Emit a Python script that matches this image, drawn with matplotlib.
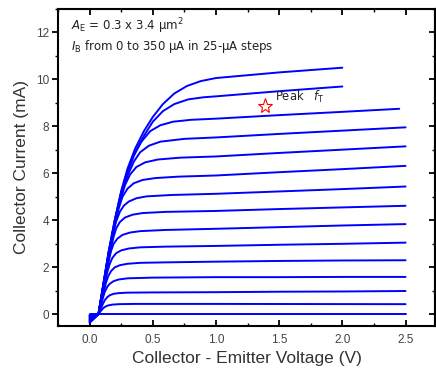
import matplotlib
matplotlib.use("Agg")
import matplotlib.pyplot as plt
from matplotlib.ticker import MultipleLocator

plt.rcParams['font.family'] = ['Liberation Sans', 'DejaVu Sans']
plt.rcParams['mathtext.fontset'] = 'custom'
plt.rcParams['mathtext.rm'] = 'DejaVu Sans'
plt.rcParams['mathtext.it'] = 'DejaVu Sans:italic'

# Collector-emitter voltage (V) and collector current (mA) for each base-current step
# (IB = 0, 25, 50, ... 350 uA)
vce_0 = [0.0, 0.07, 1.0, 2.5]
ic_0 = [0.0, 0.0, 0.0, 0.0]
vce_25 = [0.0, 0.07, 0.09, 0.11, 0.13, 0.15, 0.18, 0.23, 0.35, 1.0, 2.5]
ic_25 = [-0.03, 0.0, 0.15, 0.27, 0.34, 0.38, 0.41, 0.43, 0.44, 0.44, 0.43]
vce_50 = [0.0, 0.07, 0.10, 0.12, 0.14, 0.16, 0.19, 0.23, 0.30, 0.5, 1.0, 1.5, 2.0, 2.5]
ic_50 = [-0.05, 0.0, 0.38, 0.60, 0.73, 0.81, 0.87, 0.90, 0.92, 0.93, 0.94, 0.96, 0.97, 0.99]
vce_75 = [0.0, 0.07, 0.10, 0.12, 0.14, 0.16, 0.19, 0.23, 0.30, 0.5, 1.0, 1.5, 2.0, 2.5]
ic_75 = [-0.08, 0.0, 0.60, 0.95, 1.17, 1.30, 1.41, 1.48, 1.53, 1.56, 1.58, 1.58, 1.59, 1.59]
vce_100 = [0.0, 0.07, 0.11, 0.13, 0.15, 0.17, 0.20, 0.24, 0.30, 0.40, 0.6, 1.0, 1.5, 2.0, 2.5]
ic_100 = [-0.10, 0.0, 0.90, 1.35, 1.65, 1.84, 2.00, 2.09, 2.15, 2.19, 2.21, 2.24, 2.27, 2.29, 2.30]
vce_125 = [0.0, 0.07, 0.12, 0.14, 0.16, 0.18, 0.21, 0.25, 0.31, 0.40, 0.6, 1.0, 1.5, 2.0, 2.5]
ic_125 = [-0.13, 0.0, 1.30, 1.80, 2.15, 2.40, 2.60, 2.72, 2.80, 2.85, 2.88, 2.91, 2.96, 3.00, 3.05]
vce_150 = [0.0, 0.07, 0.13, 0.15, 0.17, 0.19, 0.22, 0.26, 0.32, 0.40, 0.6, 1.0, 1.5, 2.0, 2.5]
ic_150 = [-0.16, 0.0, 1.70, 2.25, 2.70, 3.00, 3.22, 3.38, 3.48, 3.54, 3.59, 3.64, 3.71, 3.78, 3.84]
vce_175 = [0.0, 0.07, 0.14, 0.17, 0.19, 0.21, 0.24, 0.28, 0.34, 0.42, 0.6, 1.0, 1.5, 2.0, 2.5]
ic_175 = [-0.18, 0.0, 2.00, 2.85, 3.30, 3.65, 3.93, 4.12, 4.24, 4.31, 4.36, 4.40, 4.48, 4.55, 4.62]
vce_200 = [0.0, 0.07, 0.15, 0.18, 0.21, 0.24, 0.27, 0.31, 0.37, 0.45, 0.65, 1.0, 1.5, 2.0, 2.5]
ic_200 = [-0.21, 0.0, 2.40, 3.30, 3.95, 4.37, 4.62, 4.80, 4.94, 5.02, 5.08, 5.13, 5.23, 5.33, 5.44]
vce_225 = [0.0, 0.07, 0.15, 0.19, 0.23, 0.26, 0.30, 0.35, 0.42, 0.52, 0.7, 1.0, 1.5, 2.0, 2.5]
ic_225 = [-0.24, 0.0, 2.50, 3.60, 4.50, 5.00, 5.35, 5.58, 5.72, 5.80, 5.86, 5.91, 6.05, 6.18, 6.32]
vce_250 = [0.0, 0.07, 0.15, 0.20, 0.24, 0.28, 0.32, 0.37, 0.44, 0.54, 0.72, 1.0, 1.5, 2.0, 2.5]
ic_250 = [-0.26, 0.0, 2.55, 3.90, 4.80, 5.50, 5.95, 6.27, 6.47, 6.59, 6.67, 6.72, 6.87, 7.01, 7.15]
vce_275 = [0.0, 0.07, 0.15, 0.20, 0.25, 0.30, 0.35, 0.40, 0.47, 0.56, 0.75, 1.0, 1.5, 2.0, 2.5]
ic_275 = [-0.29, 0.0, 2.60, 3.95, 5.05, 5.90, 6.50, 6.90, 7.18, 7.35, 7.47, 7.53, 7.68, 7.82, 7.96]
vce_300 = [0.0, 0.07, 0.15, 0.20, 0.25, 0.30, 0.35, 0.41, 0.48, 0.56, 0.66, 0.80, 1.0, 1.5, 2.0, 2.45]
ic_300 = [-0.32, 0.0, 2.60, 4.00, 5.15, 6.05, 6.75, 7.35, 7.80, 8.05, 8.20, 8.28, 8.33, 8.48, 8.62, 8.75]
vce_325 = [0.0, 0.07, 0.15, 0.20, 0.25, 0.30, 0.36, 0.43, 0.50, 0.58, 0.67, 0.78, 0.90, 1.0, 1.5, 2.0]
ic_325 = [-0.35, 0.0, 2.60, 4.00, 5.20, 6.10, 6.90, 7.60, 8.20, 8.65, 8.95, 9.15, 9.24, 9.28, 9.50, 9.70]
vce_350 = [0.0, 0.07, 0.15, 0.20, 0.25, 0.30, 0.36, 0.43, 0.50, 0.58, 0.67, 0.77, 0.88, 1.0, 1.5, 2.0]
ic_350 = [-0.37, 0.0, 2.65, 4.05, 5.25, 6.20, 7.05, 7.80, 8.40, 8.95, 9.40, 9.72, 9.93, 10.06, 10.30, 10.50]

curves = [
    (vce_0, ic_0), (vce_25, ic_25), (vce_50, ic_50), (vce_75, ic_75),
    (vce_100, ic_100), (vce_125, ic_125), (vce_150, ic_150), (vce_175, ic_175),
    (vce_200, ic_200), (vce_225, ic_225), (vce_250, ic_250), (vce_275, ic_275),
    (vce_300, ic_300), (vce_325, ic_325), (vce_350, ic_350),
]

# Bias point of peak transit frequency
peak_ft_v = 1.39
peak_ft_i = 8.88

x_ticks = [0.0, 0.5, 1.0, 1.5, 2.0, 2.5]
x_tick_labels = ['0.0', '0.5', '1.0', '1.5', '2.0', '2.5']
y_ticks = [0, 2, 4, 6, 8, 10, 12]
y_tick_labels = ['0', '2', '4', '6', '8', '10', '12']

W, H = 436, 371
fig = plt.figure(figsize=(W / 100, H / 100), dpi=100)
ax = fig.add_axes([58 / W, (H - 326) / H, (435 - 58) / W, (326 - 9) / H])

for v, i in curves:
    ax.plot(v, i, color='#0000ff', lw=1.4, solid_joinstyle='round',
            solid_capstyle='round', zorder=3)

ax.plot([peak_ft_v], [peak_ft_i], marker='*', markersize=11, markerfacecolor='none',
        markeredgecolor='#ff0000', markeredgewidth=0.8, linestyle='none', zorder=4)
ax.text(peak_ft_v + 0.08, peak_ft_i + 0.02, r'Peak   $\it{f}_{\rm T}$', fontsize=8.3,
        family='DejaVu Sans', color='#222222', va='bottom', ha='left')

ax.text(0.035, 0.978, r'$\it{A}_{\rm E}$ = 0.3 x 3.4 µm$^2$', transform=ax.transAxes,
        fontsize=8.5, family='DejaVu Sans', color='#222222', va='top', ha='left')
ax.text(0.035, 0.908, r'$\it{I}_{\rm B}$ from 0 to 350 µA in 25-µA steps', transform=ax.transAxes,
        fontsize=8.5, family='DejaVu Sans', color='#222222', va='top', ha='left')

ax.set_xlim(-0.25, 2.733)
ax.set_ylim(-0.5, 13.0)
ax.set_xticks(x_ticks)
ax.set_xticklabels(x_tick_labels)
ax.set_yticks(y_ticks)
ax.set_yticklabels(y_tick_labels)
ax.xaxis.set_minor_locator(MultipleLocator(0.25))
ax.yaxis.set_minor_locator(MultipleLocator(1))

for s in ax.spines.values():
    s.set_linewidth(1.5)
    s.set_color('black')

ax.tick_params(axis='x', which='both', direction='in', top=True, bottom=True,
               labelsize=8.5, labelcolor='#444444', pad=6)
ax.tick_params(axis='y', which='both', direction='out', left=True, labelsize=8.5,
               labelcolor='#444444', pad=2)
ax.tick_params(which='major', length=4.5, width=1.3)
ax.tick_params(which='minor', length=2.5, width=1.0)

# right axis carries inward ticks
sec = ax.secondary_yaxis('right')
sec.set_yticks(y_ticks)
sec.yaxis.set_minor_locator(MultipleLocator(1))
sec.tick_params(axis='y', which='both', direction='in', labelright=False)
sec.tick_params(which='major', length=4.5, width=1.3)
sec.tick_params(which='minor', length=2.5, width=1.0)
sec.spines['right'].set_linewidth(1.5)

ax.set_xlabel('Collector - Emitter Voltage (V)', fontsize=12.5, color='#333333', labelpad=3)
ax.set_ylabel('Collector Current (mA)', fontsize=12.5, color='#333333', labelpad=5)

fig.savefig('out.png', dpi=100)
